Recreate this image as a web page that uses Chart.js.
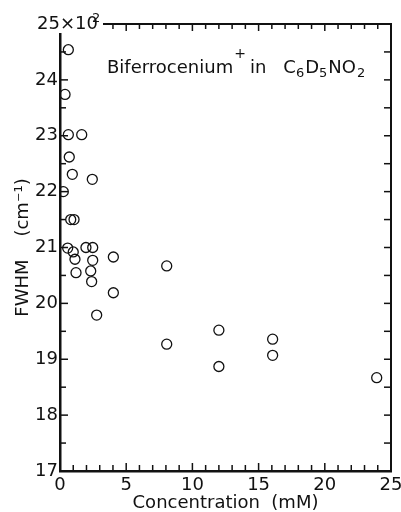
<!DOCTYPE html>
<html>
<head>
<meta charset="utf-8">
<script src="https://cdn.jsdelivr.net/npm/chart.js@4"></script>
<style>
  html, body { margin: 0; padding: 0; background: #fff; }
  #wrap { width: 401px; height: 512px; }
</style>
</head>
<body>
<div id="wrap"><canvas id="chart" width="401" height="512"></canvas></div>
<script>
// Data (concentration in mM, FWHM in units of 10^2 cm-1)
const concentration = [
  0.63, 0.38, 0.63, 1.64, 0.70, 0.93, 2.44, 0.25, 0.81, 1.06,
  0.58, 1.00, 1.96, 2.47, 1.13, 2.47, 4.03, 1.21, 2.32, 2.39,
  4.03, 2.77, 8.06, 8.06, 12.0, 12.0, 16.06, 16.06, 23.92
];
const fwhm = [
  24.54, 23.74, 23.02, 23.02, 22.62, 22.31, 22.22, 22.00, 21.50, 21.50,
  20.99, 20.92, 21.00, 21.00, 20.79, 20.77, 20.83, 20.55, 20.58, 20.39,
  20.19, 19.79, 20.67, 19.27, 19.52, 18.87, 19.36, 19.07, 18.67
];
const xTickValues = [0, 5, 10, 15, 20, 25];
const yTickValues = [17, 18, 19, 20, 21, 22, 23, 24, 25];

const FONT = "DejaVu Sans";
const INK = "#111";

const points = concentration.map(function (c, i) {
  return { x: c, y: fwhm[i] };
});

// Inward tick marks, top/right frame and the text drawn on the canvas
const framePlugin = {
  id: "frame",
  afterDraw(chart) {
    const ctx = chart.ctx;
    const xs = chart.scales.x;
    const ys = chart.scales.y;
    const area = chart.chartArea;
    ctx.save();
    ctx.strokeStyle = INK;
    ctx.lineWidth = 1.5;

    // bottom and top ticks, one per mM
    for (let v = 0; v <= 25; v++) {
      const px = xs.getPixelForValue(v);
      const len = v % 5 === 0 ? 8 : 6;
      ctx.beginPath();
      ctx.moveTo(px, area.bottom);
      ctx.lineTo(px, area.bottom - len);
      ctx.stroke();
      if (px > 104) {
        ctx.beginPath();
        ctx.moveTo(px, area.top);
        ctx.lineTo(px, area.top + (v % 5 === 0 ? 7 : 5));
        ctx.stroke();
      }
    }
    // left and right ticks, every half unit
    for (let v = 17; v <= 25; v += 0.5) {
      const py = ys.getPixelForValue(v);
      const len = Number.isInteger(v) ? 8 : 6;
      ctx.beginPath();
      ctx.moveTo(area.left, py);
      ctx.lineTo(area.left + len, py);
      ctx.stroke();
      ctx.beginPath();
      ctx.moveTo(area.right, py);
      ctx.lineTo(area.right - 7, py);
      ctx.stroke();
    }

    // top and right frame lines
    ctx.lineWidth = 2;
    ctx.beginPath();
    ctx.moveTo(103, area.top);
    ctx.lineTo(area.right, area.top);
    ctx.lineTo(area.right, area.bottom);
    ctx.stroke();

    // corner label 25x10^2 breaks the frame
    ctx.fillStyle = "#fff";
    ctx.fillRect(34, 0, 69, 33);
    ctx.fillStyle = INK;
    ctx.textBaseline = "alphabetic";
    ctx.textAlign = "left";
    ctx.font = "18px '" + FONT + "'";
    ctx.fillText("25×10", 37, 29);
    ctx.font = "13px '" + FONT + "'";
    ctx.fillText("2", 92, 22);

    // annotation: Biferrocenium+ in C6D5NO2
    const base = 73;
    const parts = [
      { t: "Biferrocenium", size: 18, dy: 0 },
      { t: "+", size: 14, dy: -15, gap: 1 },
      { t: "in", size: 18, dy: 0, gap: 4 },
      { t: "C", size: 18, dy: 0, gap: 17 },
      { t: "6", size: 13, dy: 4 },
      { t: "D", size: 18, dy: 0, gap: 1 },
      { t: "5", size: 13, dy: 4 },
      { t: "NO", size: 18, dy: 0, gap: 1 },
      { t: "2", size: 13, dy: 4, gap: 1 }
    ];
    let x = 107;
    parts.forEach(function (p) {
      x += p.gap || 0;
      ctx.font = p.size + "px '" + FONT + "'";
      ctx.fillText(p.t, x, base + p.dy);
      x += ctx.measureText(p.t).width;
    });
    ctx.restore();
  }
};

new Chart(document.getElementById("chart"), {
  type: "scatter",
  data: {
    datasets: [
      {
        label: "FWHM",
        data: points,
        pointStyle: "circle",
        pointRadius: 5,
        pointHoverRadius: 5,
        borderWidth: 1.3,
        borderColor: INK,
        backgroundColor: "rgba(0,0,0,0)"
      }
    ]
  },
  options: {
    responsive: false,
    animation: false,
    events: [],
    layout: { padding: { top: 24, right: 10, left: 0, bottom: 0 } },
    plugins: {
      legend: { display: false },
      tooltip: { enabled: false }
    },
    scales: {
      x: {
        type: "linear",
        min: 0,
        max: 25,
        afterBuildTicks: function (scale) {
          scale.ticks = xTickValues.map(function (v) { return { value: v }; });
        },
        afterFit: function (scale) {
          scale.height = 41;
          scale.paddingLeft = 0;
          scale.paddingRight = 0;
        },
        grid: { display: false, drawTicks: false },
        border: { display: true, color: INK, width: 2.5 },
        ticks: {
          color: INK,
          padding: 4,
          maxRotation: 0,
          font: { family: FONT, size: 18 }
        },
        title: {
          display: true,
          text: "Concentration  (mM)",
          color: INK,
          padding: { top: 0, bottom: -2 },
          font: { family: FONT, size: 18 }
        }
      },
      y: {
        type: "linear",
        min: 17,
        max: 25,
        afterBuildTicks: function (scale) {
          scale.ticks = yTickValues.map(function (v) { return { value: v }; });
        },
        afterFit: function (scale) {
          scale.width = 60;
          scale.paddingTop = 0;
          scale.paddingBottom = 0;
        },
        grid: { display: false, drawTicks: false },
        border: { display: true, color: INK, width: 2.5 },
        ticks: {
          color: INK,
          padding: 2,
          font: { family: FONT, size: 18 },
          callback: function (v) {
            return v === 25 ? "" : String(v);
          }
        },
        title: {
          display: true,
          text: "FWHM    (cm⁻¹)",
          color: INK,
          padding: { top: 13, bottom: 0 },
          font: { family: FONT, size: 18 }
        }
      }
    }
  },
  plugins: [framePlugin]
});
</script>
</body>
</html>
